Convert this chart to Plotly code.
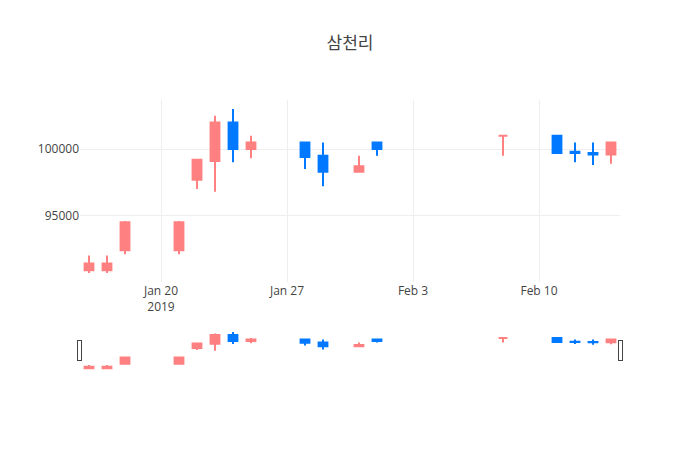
import plotly.graph_objects as go

dates = [
    "2019-01-16", "2019-01-17", "2019-01-18", "2019-01-21", "2019-01-22",
    "2019-01-23", "2019-01-24", "2019-01-25", "2019-01-28", "2019-01-29",
    "2019-01-31", "2019-02-01", "2019-02-08", "2019-02-11", "2019-02-12",
    "2019-02-13", "2019-02-14",
]
open_ = [90900, 90900, 92400, 92400, 97700, 99100, 102000, 100000, 100500, 99500,
         98300, 100500, 101000, 101000, 99800, 99700, 99600]
high = [92000, 92000, 94600, 94600, 99200, 102500, 103000, 101000, 100500, 100500,
        99500, 100500, 101000, 101000, 100500, 100500, 100500]
low = [90700, 90700, 92100, 92100, 97000, 96800, 99000, 99300, 98500, 97200,
       98300, 99500, 99500, 99700, 99000, 98800, 98900]
close = [91400, 91400, 94500, 94500, 99200, 102000, 100000, 100500, 99400, 98300,
         98700, 100000, 101000, 99700, 99700, 99600, 100500]

fig = go.Figure(
    go.Candlestick(
        x=dates, open=open_, high=high, low=low, close=close,
        increasing_line_color="#ff8080", increasing_fillcolor="#ff8080",
        decreasing_line_color="#0078ff", decreasing_fillcolor="#0078ff",
    )
)

# page puts the div at an 8px offset, so margins are shifted to compensate
fig.update_layout(
    template="none",
    width=700, height=450,
    margin=dict(l=72, r=88, t=92, b=88),
    title=dict(text="삼천리", x=0.5 - 8 / 700, xanchor="center",
               y=1 - 35 / 450, yanchor="middle",
               font=dict(family="Noto Sans CJK KR", size=17)),
    showlegend=False,
)
fig.update_yaxes(tickformat="d")

fig.write_html("out.html")
